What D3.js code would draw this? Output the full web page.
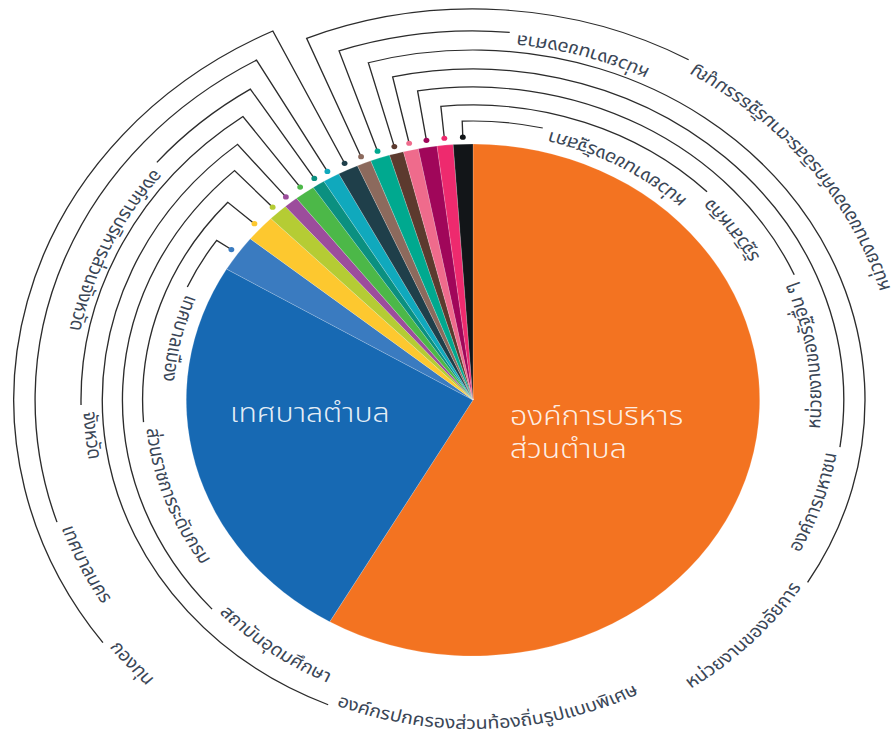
<!DOCTYPE html>
<html><head><meta charset="utf-8">
<script src="https://cdn.jsdelivr.net/npm/d3@7"></script>
<style>
html,body{margin:0;padding:0;background:#fff;}
svg{display:block;}
text{font-family:"Noto Sans Thai","Noto Sans Thai UI","Noto Sans",sans-serif;}
</style></head><body>
<svg id="chart" width="896" height="731"></svg>
<script>
// ---- data ----
const categories = [
  "องค์การบริหารส่วนตำบล","เทศบาลตำบล","เทศบาลเมือง","ส่วนราชการระดับกรม","สถาบันอุดมศึกษา",
  "องค์กรปกครองส่วนท้องถิ่นรูปแบบพิเศษ","จังหวัด","องค์การบริหารส่วนจังหวัด","เทศบาลนคร","กองทุน",
  "หน่วยงานขององค์กรอิสระตามรัฐธรรมนูญ","หน่วยงานของศาล","หน่วยงานของอัยการ","องค์การมหาชน",
  "หน่วยงานของรัฐอื่น ๆ","รัฐวิสาหกิจ","หน่วยงานของรัฐสภา"
];
const values = [58.3,25.2,2.3,1.7,1.1,0.8,1.15,0.7,0.95,1.15,0.8,1.1,0.8,0.85,1.05,0.9,1.1];
const colors = ["#f37321","#1769b3","#3a7bc0","#fdc82f","#b5cc34","#9c4d9c","#4cb848","#0b9080",
  "#10a9bd","#1f3f4a","#8c6a5d","#00a98f","#5c3a2e","#ef6b8c","#a0065a","#ee2a6e","#121518"];
// label layout (side of the ring, ring level, angle where the leader ends)
const labelSide  = ["in","in","L","L","L","L","L","L","L","L","R","R","R","R","R","R","R"];
const labelLevel = [0,0,0,1,2,3,4,5,6,7,6,5,4,3,2,1,0];
const labelEndDeg= [0,0,293.9,265.7,228.1,203,269.2,310.1,251.8,233.7,29.5,5.1,121.4,98.2,66.4,45.1,12.9];
const levelRadii = [279,295,313,331,350,369,391,410];

// ---- layout ----
const cx=473, cy=400, sx=1.12, R=256, dotR=263;
const svg=d3.select("#chart");
const g=svg.append("g").attr("transform",`translate(${cx},${cy}) scale(${sx},1)`);
const data=categories.map((c,i)=>({name:c,value:values[i],color:colors[i],side:labelSide[i],level:labelLevel[i],end:labelEndDeg[i]}));
const pie=d3.pie().sort(null).value(d=>d.value).startAngle(0).endAngle(2*Math.PI);
const arcs=pie(data);
const arc=d3.arc().innerRadius(0).outerRadius(R);

g.selectAll("path.slice").data(arcs).enter().append("path")
  .attr("class","slice").attr("d",arc).attr("fill",d=>d.data.color)
  .attr("stroke","#ffffff").attr("stroke-opacity",0.35).attr("stroke-width",0.5);

const pt=(a,r)=>[r*Math.sin(a),-r*Math.cos(a)];
const P=(a,r)=>pt(a,r).map(v=>v.toFixed(2)).join(",");
const rad=Math.PI/180;
const small=arcs.filter(d=>d.data.side!=="in");

small.forEach((d,i)=>{
  const mid=(d.startAngle+d.endAngle)/2;
  const lr=levelRadii[d.data.level];
  let end=d.data.end*rad;
  const right=d.data.side==="R";
  if(right && end<mid) end+=2*Math.PI;
  g.append("path")
    .attr("d",`M${P(mid,dotR)}L${P(mid,lr)}A${lr},${lr} 0 0 ${right?1:0} ${P(end,lr)}`)
    .attr("fill","none").attr("stroke","#2c2c2c").attr("stroke-width",1.2);
  g.append("circle").attr("cx",pt(mid,dotR)[0]).attr("cy",pt(mid,dotR)[1]).attr("r",2.6)
    .attr("fill",d.data.color);
  const rt=lr-2, gap=7/lr;
  const id="tp"+i;
  let pd, anchor, off;
  if(!right){
    const a=end-gap;
    pd=`M${P(a,rt)}A${rt},${rt} 0 0 0 ${P(a-170*rad,rt)}`; anchor="start"; off="0%";
  } else {
    const a=end+gap;
    pd=`M${P(a+170*rad,rt)}A${rt},${rt} 0 0 0 ${P(a,rt)}`; anchor="end"; off="100%";
  }
  g.append("path").attr("id",id).attr("d",pd).attr("fill","none");
  g.append("text").attr("font-size",17.5).attr("fill","#3a4656")
    .append("textPath").attr("href","#"+id).attr("startOffset",off).attr("text-anchor",anchor)
    .text(d.data.name);
});

// inner labels
const blue=arcs[1];
g.append("text").attr("x",33).attr("y",25).attr("font-size",27).attr("font-weight",300)
  .attr("fill","#fff").attr("fill-opacity",0.9)
  .selectAll("tspan").data(["องค์การบริหาร","ส่วนตำบล"]).enter().append("tspan")
  .attr("x",33).attr("dy",(d,i)=>i?33:0).text(d=>d);
g.append("text").attr("x",-217).attr("y",22).attr("font-size",27).attr("font-weight",300)
  .attr("fill","#fff").attr("fill-opacity",0.9).text(blue.data.name);
</script>
</body></html>
